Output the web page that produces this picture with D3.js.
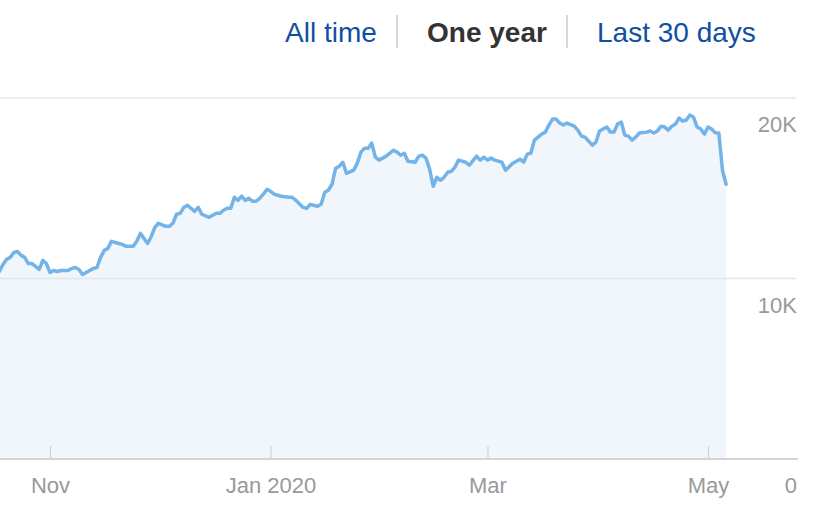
<!DOCTYPE html>
<html>
<head>
<meta charset="utf-8">
<script src="https://cdn.jsdelivr.net/npm/d3@7"></script>
<style>
  html, body { margin: 0; padding: 0; background: #fff; }
  svg { display: block; font-family: "Liberation Sans", Arial, Helvetica, sans-serif; }
</style>
</head>
<body>
<svg id="chart" width="830" height="508"></svg>
<script>
// ---- data ----
const dates = [
  "2019-10-18","2019-10-19","2019-10-20","2019-10-21","2019-10-22","2019-10-23","2019-10-24","2019-10-25",
  "2019-10-26","2019-10-27","2019-10-28","2019-10-29","2019-10-30","2019-10-31",
  "2019-11-01","2019-11-02","2019-11-03","2019-11-04","2019-11-06","2019-11-07","2019-11-08","2019-11-09",
  "2019-11-10","2019-11-11","2019-11-13","2019-11-14","2019-11-15","2019-11-16","2019-11-17","2019-11-18",
  "2019-11-20","2019-11-21","2019-11-22","2019-11-24","2019-11-25","2019-11-26","2019-11-28","2019-11-29","2019-11-30",
  "2019-12-01","2019-12-03","2019-12-04","2019-12-05","2019-12-06","2019-12-07","2019-12-08","2019-12-09",
  "2019-12-10","2019-12-11","2019-12-12","2019-12-13","2019-12-15","2019-12-16","2019-12-17","2019-12-18",
  "2019-12-19","2019-12-20","2019-12-21","2019-12-22","2019-12-23","2019-12-24","2019-12-25","2019-12-26",
  "2019-12-27","2019-12-28","2019-12-29","2019-12-30","2019-12-31",
  "2020-01-01","2020-01-02","2020-01-04","2020-01-06","2020-01-07","2020-01-08","2020-01-10","2020-01-11",
  "2020-01-12","2020-01-14","2020-01-15","2020-01-16","2020-01-17","2020-01-18","2020-01-19","2020-01-20",
  "2020-01-21","2020-01-22","2020-01-24","2020-01-25","2020-01-26","2020-01-27","2020-01-28","2020-01-29",
  "2020-01-30","2020-01-31",
  "2020-02-02","2020-02-03","2020-02-04","2020-02-05","2020-02-06","2020-02-07","2020-02-08","2020-02-10",
  "2020-02-11","2020-02-12","2020-02-13","2020-02-14","2020-02-15","2020-02-16","2020-02-17","2020-02-18",
  "2020-02-19","2020-02-20","2020-02-21","2020-02-22","2020-02-24","2020-02-25","2020-02-27","2020-02-28","2020-02-29",
  "2020-03-01","2020-03-02","2020-03-03","2020-03-04","2020-03-05","2020-03-06","2020-03-08","2020-03-09",
  "2020-03-10","2020-03-11","2020-03-12","2020-03-13","2020-03-14","2020-03-16","2020-03-17","2020-03-18",
  "2020-03-19","2020-03-20","2020-03-21","2020-03-22","2020-03-23","2020-03-25","2020-03-26","2020-03-27",
  "2020-03-28","2020-03-29","2020-03-30","2020-03-31",
  "2020-04-01","2020-04-03","2020-04-04","2020-04-05","2020-04-06","2020-04-07","2020-04-08","2020-04-09",
  "2020-04-10","2020-04-11","2020-04-12","2020-04-14","2020-04-15","2020-04-16","2020-04-17","2020-04-18",
  "2020-04-19","2020-04-20","2020-04-21","2020-04-22","2020-04-23","2020-04-24","2020-04-25","2020-04-26",
  "2020-04-27","2020-04-28","2020-04-29","2020-04-30",
  "2020-05-01","2020-05-02","2020-05-03","2020-05-04","2020-05-05","2020-05-06"
];
const values = [
  10390,10780,11060,11170,11440,11500,11280,11170,
  10830,10830,10670,10500,11000,10830,
  10330,10440,10390,10440,10440,10560,10610,10500,
  10220,10330,10560,10610,11170,11560,11670,12060,
  11940,11890,11780,11780,12060,12500,11940,12330,12830,
  13060,12890,12890,13060,13560,13610,13940,14060,
  13890,13720,13940,13560,13390,13500,13610,13610,
  13780,13890,13890,14500,14330,14560,14330,14440,
  14280,14280,14440,14670,14940,
  14830,14670,14560,14500,14500,14330,13940,13890,
  14110,14000,14110,14780,14890,15220,16110,16220,
  16440,15830,16000,16390,17000,17220,17220,17500,
  16720,16560,
  16780,16940,17110,17000,16830,16940,16500,16440,
  16780,16830,16670,16060,15110,15610,15440,15610,
  15890,15940,16170,16560,16440,16280,16780,16560,16720,
  16560,16670,16560,16500,16440,16000,16390,16500,
  16610,16440,16890,16940,17670,18000,18110,18500,
  18830,18830,18610,18500,18610,18440,18220,17890,
  17830,17610,17390,17560,
  18170,18390,18110,18110,18560,18670,17940,17890,
  17670,17830,18060,18110,18170,18060,18170,18440,
  18390,18220,18440,18560,18890,18720,18780,19060,
  18940,18390,18280,18000,
  18390,18280,18080,18060,16000,15220
];
const xTickDates = ["2019-11-01","2020-01-01","2020-03-01","2020-05-01"];
const xTickLabels = ["Nov","Jan 2020","Mar","May"];
const yTickValues = [0, 10000, 20000];
const yTickLabels = ["0","10K","20K"];
const tabs = ["All time","One year","Last 30 days"];
const activeTab = "One year";

// ---- setup ----
const parse = d3.utcParse("%Y-%m-%d");
const data = dates.map((d, i) => ({ date: parse(d), value: values[i] }));

const svg = d3.select("#chart");
const x = d3.scaleUtc()
  .domain([parse("2019-11-01"), parse("2020-05-01")])
  .range([50, 708]);
const y = d3.scaleLinear().domain([0, 20000]).range([459, 98]);

const gridRight = 796;

// area
const area = d3.area()
  .x(d => x(d.date))
  .y0(y(0))
  .y1(d => y(d.value));
svg.append("path")
  .datum(data)
  .attr("d", area)
  .attr("fill", "#f0f6fb");

// gridlines (non-zero)
svg.append("g")
  .selectAll("line")
  .data(yTickValues.filter(v => v > 0))
  .join("line")
  .attr("x1", 0).attr("x2", gridRight)
  .attr("y1", d => y(d)).attr("y2", d => y(d))
  .attr("stroke", "#e4e6e8")
  .attr("stroke-width", 1.5);

// y labels
svg.append("g")
  .selectAll("text")
  .data(yTickValues)
  .join("text")
  .attr("x", 797)
  .attr("y", d => y(d) + 34)
  .attr("text-anchor", "end")
  .attr("font-size", 22)
  .attr("fill", "#999")
  .text((d, i) => yTickLabels[i]);

// line
const line = d3.line()
  .x(d => x(d.date))
  .y(d => y(d.value));
svg.append("path")
  .datum(data)
  .attr("d", line)
  .attr("fill", "none")
  .attr("stroke", "#74b3e7")
  .attr("stroke-width", 3.5)
  .attr("stroke-linejoin", "round")
  .attr("stroke-linecap", "round");

// x axis
const xAxis = d3.axisBottom(x)
  .tickValues(xTickDates.map(parse))
  .tickFormat((d, i) => xTickLabels[i])
  .tickSizeInner(-13)
  .tickSizeOuter(0)
  .tickPadding(18);
const gx = svg.append("g")
  .attr("transform", `translate(0,${y(0)})`)
  .call(xAxis);
gx.select(".domain").remove();
gx.selectAll(".tick line").attr("stroke", "#d4d4d4").attr("stroke-width", 1.2);
gx.selectAll(".tick text")
  .attr("font-size", 22)
  .attr("fill", "#999")
  .attr("font-family", "'Liberation Sans', Arial, sans-serif");

// baseline
svg.append("line")
  .attr("x1", 0).attr("x2", 798)
  .attr("y1", y(0)).attr("y2", y(0))
  .attr("stroke", "#d2d4d6")
  .attr("stroke-width", 2);

// tabs
const tabX = [285, 427, 597];
const sepX = [397, 567];
svg.append("g")
  .selectAll("text")
  .data(tabs)
  .join("text")
  .attr("x", (d, i) => tabX[i])
  .attr("y", 42)
  .attr("font-size", 28)
  .attr("font-weight", d => d === activeTab ? "bold" : "normal")
  .attr("fill", d => d === activeTab ? "#333" : "#0f4fa2")
  .text(d => d);
svg.append("g")
  .selectAll("line")
  .data(sepX)
  .join("line")
  .attr("x1", d => d).attr("x2", d => d)
  .attr("y1", 15).attr("y2", 48)
  .attr("stroke", "#d8d8d8")
  .attr("stroke-width", 2);
</script>
</body>
</html>
